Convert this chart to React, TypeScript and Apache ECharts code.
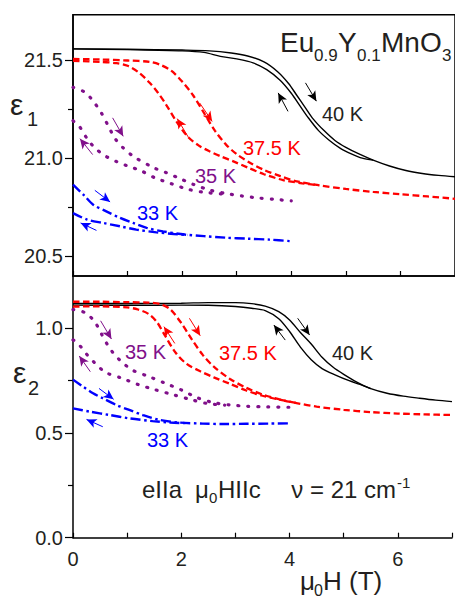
import React, { useEffect, useRef } from 'react';
import * as echarts from 'echarts';

const FONT = '"Liberation Sans", Arial, Helvetica, sans-serif';
const TEXT = '#231f20';
const BLACK = '#000000';
const RED = '#ff0000';
const PURPLE = '#80108a';
const BLUE = '#0000ff';

// ---- axis ticks ----
const xTickLabels = [0, 2, 4, 6];
const eps1MajorTicks = [20.5, 21.0, 21.5];
const eps1MinorTicks = [20.75, 21.25];
const eps2MajorTicks = [0.0, 0.5, 1.0];
const eps2MinorTicks = [0.25, 0.75];

// ---- epsilon_1 (top panel), [field T, value] ----
const e1_40K_up = [[0,21.556],[1.0,21.554],[2.0,21.55],[2.5,21.546],[2.9,21.535],[3.2,21.52],[3.5,21.49],[3.75,21.44],[3.95,21.38],[4.1,21.32],[4.25,21.26],[4.4,21.2],[4.6,21.14],[4.8,21.09],[5.0,21.055],[5.25,21.02],[5.5,20.99],[5.8,20.96],[6.1,20.937],[6.4,20.922],[6.7,20.912],[7.0,20.905]];
const e1_40K_down = [[0,21.556],[1.0,21.552],[2.0,21.546],[2.4,21.538],[2.7,21.518],[3.0,21.505],[3.3,21.485],[3.55,21.45],[3.8,21.395],[4.0,21.33],[4.15,21.27],[4.3,21.21],[4.5,21.14],[4.7,21.09],[4.9,21.05],[5.1,21.022],[5.3,21.0],[5.5,20.99]];
const e1_375K_up = [[0,21.505],[0.5,21.502],[1.0,21.497],[1.4,21.49],[1.6,21.475],[1.8,21.445],[2.0,21.39],[2.2,21.32],[2.4,21.23],[2.6,21.14],[2.8,21.07],[3.0,21.02],[3.25,20.975],[3.5,20.94],[3.8,20.908],[4.1,20.882],[4.5,20.862],[5.0,20.843],[5.5,20.828],[6.0,20.816],[6.5,20.805],[7.0,20.793]];
const e1_375K_down = [[0,21.495],[0.5,21.49],[0.8,21.483],[1.0,21.47],[1.2,21.437],[1.4,21.385],[1.55,21.335],[1.7,21.275],[1.9,21.185],[2.1,21.11],[2.3,21.065],[2.5,21.035],[2.7,21.01],[2.95,20.982],[3.2,20.952],[3.5,20.918],[3.85,20.888],[4.2,20.872],[4.5,20.862]];
const e1_35K_up = [[0,21.36],[0.22,21.335],[0.37,21.29],[0.52,21.23],[0.65,21.162],[0.77,21.1],[0.92,21.052],[1.1,21.01],[1.47,20.952],[1.7,20.927],[1.95,20.897],[2.2,20.867],[2.5,20.838],[2.8,20.82],[3.1,20.807],[3.4,20.797],[3.7,20.79],[4.0,20.782]];
const e1_35K_down = [[0,21.19],[0.12,21.16],[0.25,21.103],[0.4,21.052],[0.6,21.01],[0.8,20.982],[1.0,20.96],[1.25,20.935],[1.5,20.9],[1.8,20.87],[2.1,20.842],[2.4,20.826],[2.8,20.816]];
const e1_33K_up = [[0,20.865],[0.19,20.814],[0.37,20.763],[0.61,20.729],[0.86,20.696],[1.1,20.67],[1.35,20.645],[1.65,20.627],[2.05,20.611],[2.4,20.603],[2.8,20.595],[3.2,20.59],[3.6,20.585],[4.0,20.577]];
const e1_33K_down = [[0,20.72],[0.25,20.688],[0.55,20.67],[0.86,20.653],[1.16,20.636],[1.53,20.622],[1.85,20.614],[2.1,20.609]];

// ---- epsilon_2 (bottom panel) ----
const e2_40K_up = [[0,1.119],[1.0,1.119],[2.0,1.12],[2.5,1.123],[3.0,1.123],[3.3,1.118],[3.55,1.106],[3.8,1.08],[4.0,1.04],[4.2,0.98],[4.4,0.925],[4.6,0.862],[4.8,0.815],[5.0,0.78],[5.25,0.742],[5.5,0.712],[5.8,0.69],[6.1,0.676],[6.4,0.666],[6.7,0.657],[7.0,0.65]];
const e2_40K_down = [[0,1.111],[1.0,1.11],[2.0,1.111],[2.5,1.11],[3.0,1.104],[3.3,1.096],[3.55,1.085],[3.8,1.046],[4.0,0.985],[4.2,0.91],[4.4,0.85],[4.6,0.808],[4.85,0.777],[5.1,0.75],[5.3,0.732],[5.5,0.712]];
const e2_375K_up = [[0,1.127],[0.5,1.127],[1.0,1.125],[1.4,1.123],[1.6,1.117],[1.8,1.09],[2.0,1.025],[2.2,0.945],[2.4,0.872],[2.6,0.817],[2.9,0.758],[3.2,0.716],[3.5,0.684],[3.85,0.658],[4.15,0.642],[4.5,0.626],[5.0,0.611],[5.5,0.6],[6.0,0.593],[6.5,0.589],[7.0,0.586]];
const e2_375K_down = [[0,1.104],[0.5,1.105],[1.0,1.1],[1.2,1.09],[1.4,1.068],[1.55,1.03],[1.7,0.965],[1.9,0.882],[2.1,0.83],[2.35,0.795],[2.6,0.766],[2.9,0.735],[3.2,0.703],[3.5,0.678],[3.8,0.66],[4.15,0.642]];
const e2_35K_up = [[0,1.09],[0.22,1.075],[0.4,1.032],[0.52,0.976],[0.63,0.925],[0.75,0.88],[0.9,0.84],[1.1,0.8],[1.4,0.77],[1.7,0.738],[2.0,0.706],[2.3,0.668],[2.6,0.645],[2.9,0.634],[3.2,0.628],[3.6,0.625],[4.0,0.623]];
const e2_35K_down = [[0,0.945],[0.1,0.925],[0.25,0.877],[0.4,0.835],[0.6,0.79],[0.9,0.762],[1.2,0.732],[1.5,0.708],[1.85,0.683],[2.2,0.658],[2.5,0.64],[2.8,0.633]];
const e2_33K_up = [[0,0.755],[0.19,0.721],[0.37,0.69],[0.55,0.666],[0.8,0.634],[1.04,0.61],[1.29,0.586],[1.59,0.563],[1.96,0.55],[2.4,0.545],[2.8,0.543],[3.2,0.544],[3.6,0.545],[4.0,0.546]];
const e2_33K_down = [[0,0.618],[0.31,0.602],[0.68,0.586],[1.04,0.57],[1.47,0.557],[1.8,0.55],[2.1,0.547]];

// ---- sweep-direction arrows [from, to] in data units ----
const e1_40K_arrows = [[[4.26,21.383],[4.46,21.29]],[[3.94,21.238],[3.76,21.332]]];
const e1_375K_arrows = [[[2.32,21.281],[2.55,21.187]],[[2.11,21.108],[1.91,21.201]]];
const e1_35K_arrows = [[[0.726,21.205],[0.92,21.111]],[[0.36,21.018],[0.128,21.099]]];
const e1_33K_arrows = [[[0.40,20.836],[0.68,20.777]],[[0.43,20.632],[0.14,20.67]]];
const e2_40K_arrows = [[[4.15,1.048],[4.37,0.968]],[[3.92,0.944],[3.71,1.016]]];
const e2_375K_arrows = [[[2.15,1.048],[2.35,0.965]],[[1.88,0.928],[1.68,1.008]]];
const e2_35K_arrows = [[[0.51,1.036],[0.71,0.949]],[[0.32,0.793],[0.116,0.868]]];
const e2_33K_arrows = [[[0.48,0.713],[0.75,0.661]],[[0.55,0.53],[0.25,0.565]]];

const STYLE: Record<string, any> = {
  solid: { color: BLACK, type: 'solid', width: 1.4 },
  dash: { color: RED, type: [6.5, 3.5], width: 2.3 },
  dot: { color: PURPLE, type: [1, 9], width: 3.2, cap: 'round' },
  dashdot: { color: BLUE, type: [10, 3.5, 2.5, 3.5], width: 2.4 },
};

function curve(name: string, data: number[][], panel: number, style: string, arrows?: number[][][]) {
  const ls = STYLE[style];
  const s: any = {
    name,
    type: 'line',
    xAxisIndex: panel,
    yAxisIndex: panel * 2,
    data,
    smooth: 0.3,
    showSymbol: false,
    symbol: 'none',
    lineStyle: ls,
    silent: true,
    z: 3,
  };
  if (arrows) {
    s.markLine = {
      silent: true,
      animation: false,
      symbol: ['none', 'arrow'],
      symbolSize: [7, 10],
      label: { show: false },
      emphasis: { disabled: true },
      lineStyle: { color: ls.color, width: 1, type: 'solid' },
      data: arrows.map((a) => [{ coord: a[0] }, { coord: a[1] }]),
    };
  }
  return s;
}

function txt(text: string, x: number, y: number, size: number, fill = TEXT, align = 'left') {
  return {
    type: 'text',
    x,
    y,
    silent: true,
    style: { text, x: 0, y: 0, fontSize: size, fontFamily: FONT, fill, align, verticalAlign: 'middle' },
  };
}

function xAxis(grid: number, labels: boolean) {
  return {
    type: 'value',
    gridIndex: grid,
    min: 0,
    max: 7,
    interval: 1,
    axisLine: { show: true, onZero: false, lineStyle: { color: BLACK, width: 1.5 } },
    axisTick: { show: true, inside: true, length: 5, lineStyle: { color: BLACK, width: 1.2 } },
    splitLine: { show: false },
    axisLabel: {
      show: labels,
      margin: 11,
      fontSize: 20,
      fontFamily: FONT,
      color: TEXT,
      formatter: (v: number) => (xTickLabels.includes(v) ? String(v) : ''),
    },
  };
}

function yAxes(grid: number, min: number, max: number, major: number[], minor: number[]) {
  return [
    {
      type: 'value',
      gridIndex: grid,
      min,
      max,
      axisLine: { show: true, onZero: false, lineStyle: { color: BLACK, width: 1.5 } },
      axisTick: { show: true, inside: false, length: 8, customValues: major, lineStyle: { color: BLACK, width: 1.2 } },
      splitLine: { show: false },
      axisLabel: {
        show: true,
        margin: 10,
        fontSize: 20,
        fontFamily: FONT,
        color: TEXT,
        customValues: major,
        formatter: (v: number) => v.toFixed(1),
      },
    },
    {
      type: 'value',
      gridIndex: grid,
      min,
      max,
      position: 'left',
      axisLine: { show: false },
      axisTick: { show: true, inside: false, length: 5, customValues: minor, lineStyle: { color: BLACK, width: 1.2 } },
      splitLine: { show: false },
      axisLabel: { show: false, customValues: minor },
    },
  ];
}

export default function App() {
  const ref = useRef<HTMLDivElement>(null);
  useEffect(() => {
    document.body.style.margin = '0';
    const chart = echarts.init(ref.current!, null, { renderer: 'svg' });
    const option: any = {
      animation: false,
      backgroundColor: '#ffffff',
      grid: [
        { left: 73, top: 14.7, width: 382.5, height: 261.3, show: true, borderColor: BLACK, borderWidth: 1.5, backgroundColor: 'transparent' },
        { left: 73, top: 276, width: 382.5, height: 261.7, show: false },
      ],
      xAxis: [xAxis(0, false), xAxis(1, true)],
      yAxis: [
        ...yAxes(0, 20.4, 21.73, eps1MajorTicks, eps1MinorTicks),
        ...yAxes(1, 0, 1.25, eps2MajorTicks, eps2MinorTicks),
      ],
      series: [
        curve('e1 40 K up', e1_40K_up, 0, 'solid', e1_40K_arrows),
        curve('e1 40 K down', e1_40K_down, 0, 'solid'),
        curve('e1 37.5 K up', e1_375K_up, 0, 'dash', e1_375K_arrows),
        curve('e1 37.5 K down', e1_375K_down, 0, 'dash'),
        curve('e1 35 K up', e1_35K_up, 0, 'dot', e1_35K_arrows),
        curve('e1 35 K down', e1_35K_down, 0, 'dot'),
        curve('e1 33 K up', e1_33K_up, 0, 'dashdot', e1_33K_arrows),
        curve('e1 33 K down', e1_33K_down, 0, 'dashdot'),
        curve('e2 40 K up', e2_40K_up, 1, 'solid', e2_40K_arrows),
        curve('e2 40 K down', e2_40K_down, 1, 'solid'),
        curve('e2 37.5 K up', e2_375K_up, 1, 'dash', e2_375K_arrows),
        curve('e2 37.5 K down', e2_375K_down, 1, 'dash'),
        curve('e2 35 K up', e2_35K_up, 1, 'dot', e2_35K_arrows),
        curve('e2 35 K down', e2_35K_down, 1, 'dot'),
        curve('e2 33 K up', e2_33K_up, 1, 'dashdot', e2_33K_arrows),
        curve('e2 33 K down', e2_33K_down, 1, 'dashdot'),
      ],
      graphic: [
        // axis names
        txt('ε', 10, 104, 30),
        txt('1', 27, 119, 20),
        txt('ε', 13, 372, 30),
        txt('2', 28, 388, 20),
        txt('μ', 300, 581, 26),
        txt('0', 314, 590, 16),
        txt('H (T)', 323, 581, 26),
        // title
        txt('Eu', 280, 42, 28),
        txt('0.9', 314, 55, 17),
        txt('Y', 338, 42, 28),
        txt('0.1', 357, 55, 17),
        txt('MnO', 381, 42, 28),
        txt('3', 442, 55, 17),
        // temperature labels
        txt('40 K', 322, 114, 20, TEXT),
        txt('37.5 K', 243, 148, 20, RED),
        txt('35 K', 195, 175.5, 20, PURPLE),
        txt('33 K', 137, 212.5, 20, BLUE),
        txt('35 K', 125, 352, 20, PURPLE),
        txt('37.5 K', 219, 352.5, 20, RED),
        txt('40 K', 332, 353, 20, TEXT),
        txt('33 K', 147, 440, 20, BLUE),
        // conditions
        txt('eIIa', 142, 489, 24),
        txt('μ', 195, 489, 24),
        txt('0', 209, 497, 15),
        txt('HIIc', 218, 489, 24),
        txt('ν = 21 cm', 396, 489, 24, TEXT, 'right'),
        txt('-1', 397, 482, 15),
      ],
    };
    chart.setOption(option);
    return () => chart.dispose();
  }, []);
  return <div ref={ref} style={{ width: 455, height: 599 }} />;
}
